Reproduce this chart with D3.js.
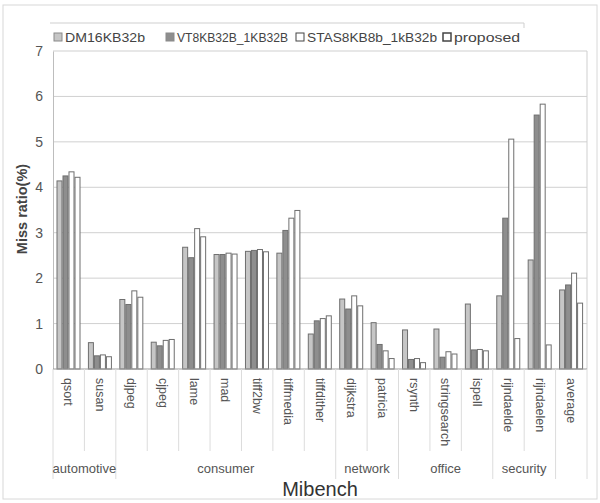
<!DOCTYPE html>
<html>
<head>
<meta charset="utf-8">
<script src="https://cdn.jsdelivr.net/npm/d3@7"></script>
<style>
  body { margin: 0; background: #fff; }
  text { font-family: "Liberation Sans", Arial, sans-serif; }
</style>
</head>
<body>
<div id="chart"></div>
<script>
// data
const categories = ["qsort", "susan", "djpeg", "cjpeg", "lame", "mad", "tiff2bw", "tiffmedia", "tiffdither",
  "dijkstra", "patricia", "rsynth", "stringsearch", "ispell", "rijndaelde", "rijndaelen", "average"];
const groupNames = ["automotive", "consumer", "network", "office", "security", ""];
const groupSizes = [2, 7, 2, 3, 2, 1];
const seriesNames = ["DM16KB32b", "VT8KB32B_1KB32B", "STAS8KB8b_1kB32b", "proposed"];
const dm   = [4.14, 0.58, 1.53, 0.59, 2.68, 2.52, 2.59, 2.55, 0.77, 1.54, 1.02, 0.86, 0.88, 1.43, 1.61, 2.40, 1.74];
const vt   = [4.25, 0.29, 1.42, 0.51, 2.45, 2.52, 2.61, 3.05, 1.06, 1.32, 0.54, 0.21, 0.26, 0.42, 3.32, 5.59, 1.85];
const stas = [4.34, 0.31, 1.72, 0.63, 3.09, 2.55, 2.63, 3.32, 1.11, 1.61, 0.40, 0.23, 0.38, 0.43, 5.06, 5.83, 2.11];
const prop = [4.22, 0.27, 1.58, 0.65, 2.91, 2.53, 2.58, 3.49, 1.17, 1.39, 0.23, 0.14, 0.33, 0.40, 0.67, 0.53, 1.45];
const yTicks = [0, 1, 2, 3, 4, 5, 6, 7];

const values = [dm, vt, stas, prop];
const fills = ["#c6c6c6", "#8e8e8e", "#ffffff", "#ffffff"];

const width = 600, height = 503;
const plotL = 53, plotR = 587, plotT = 51, plotB = 369;

const svg = d3.select("#chart").append("svg")
  .attr("width", width)
  .attr("height", height);

// outer frame
svg.append("rect")
  .attr("x", 3).attr("y", 5).attr("width", 594).attr("height", 494)
  .attr("fill", "none").attr("stroke", "#d8d8d8");

const x0 = d3.scaleBand().domain(categories).range([plotL, plotR]);
const x1 = d3.scaleBand().domain(seriesNames).range([3.5, 27.5]);
const y = d3.scaleLinear().domain([0, 7]).range([plotB, plotT]);

// gridlines
svg.append("g")
  .selectAll("line")
  .data(yTicks.filter(d => d > 0 && d < 7))
  .enter().append("line")
  .attr("x1", plotL).attr("x2", plotR)
  .attr("y1", d => y(d)).attr("y2", d => y(d))
  .attr("stroke", "#d0d0d0");

// plot frame: top and right
svg.append("path")
  .attr("d", `M${plotL},${y(7)}H${plotR}V${plotB}`)
  .attr("fill", "none").attr("stroke", "#cfcfcf");

// bars
const grp = svg.append("g").selectAll("g")
  .data(categories)
  .enter().append("g")
  .attr("transform", d => `translate(${x0(d)},0)`);

grp.selectAll("rect")
  .data((c, i) => seriesNames.map((s, j) => ({ s: s, j: j, v: values[j][i] })))
  .enter().append("rect")
  .attr("x", d => x1(d.s) + 0.5)
  .attr("y", d => y(d.v))
  .attr("width", x1.bandwidth() - 1)
  .attr("height", d => plotB - y(d.v))
  .attr("fill", d => fills[d.j])
  .attr("stroke", "#6f6f6f")
  .attr("stroke-width", 1);

// y axis
const yAxis = svg.append("g")
  .attr("transform", `translate(${plotL},0)`)
  .call(d3.axisLeft(y).tickValues(yTicks).tickFormat(d3.format("d")).tickSize(0).tickPadding(10));
yAxis.select(".domain").attr("stroke", "#bdbdbd");
yAxis.selectAll("text")
  .style("font-family", "Liberation Sans, Arial, sans-serif")
  .style("font-size", "14px")
  .attr("fill", "#555");

svg.append("text")
  .attr("transform", "translate(27,209) rotate(-90)")
  .attr("text-anchor", "middle")
  .attr("font-size", "14.5px")
  .attr("font-weight", "bold")
  .attr("fill", "#444")
  .text("Miss ratio(%)");

// x axis baseline
svg.append("line")
  .attr("x1", plotL).attr("x2", plotR)
  .attr("y1", plotB).attr("y2", plotB)
  .attr("stroke", "#9a9a9a");

// category separators
const bounds = d3.range(categories.length + 1).map(i => plotL + i * x0.step());
const groupEnds = d3.cumsum(groupSizes);
svg.append("g").selectAll("line")
  .data(bounds)
  .enter().append("line")
  .attr("x1", d => d).attr("x2", d => d)
  .attr("y1", plotB)
  .attr("y2", (d, i) => (i === 0 || groupEnds.includes(i)) ? 479 : 451)
  .attr("stroke", "#dcdcdc");

// category labels
svg.append("g").selectAll("text")
  .data(categories)
  .enter().append("text")
  .attr("transform", d => `translate(${x0(d) + x0.bandwidth() / 2},378) rotate(90)`)
  .attr("dy", "0.35em")
  .attr("font-size", "12.5px")
  .attr("fill", "#555")
  .text(d => d);

// group labels
let start = 0;
groupNames.forEach((g, i) => {
  const a = bounds[start], b = bounds[start + groupSizes[i]];
  start += groupSizes[i];
  if (!g) return;
  svg.append("text")
    .attr("x", (a + b) / 2)
    .attr("y", 473)
    .attr("text-anchor", "middle")
    .attr("font-size", "13px")
    .attr("fill", "#555")
    .text(g);
});

svg.append("text")
  .attr("x", (plotL + plotR) / 2)
  .attr("y", 496)
  .attr("text-anchor", "middle")
  .attr("font-size", "20px")
  .attr("fill", "#333")
  .text("Mibench");

// legend
svg.append("path")
  .attr("d", "M50,23H524V28")
  .attr("fill", "none").attr("stroke", "#cfcfcf");

const legendX = [54, 166, 296, 443];
const legendW = [80, 111, 130, 66];
const leg = svg.append("g").selectAll("g")
  .data(seriesNames)
  .enter().append("g")
  .attr("transform", (d, i) => `translate(${legendX[i]},37)`);
leg.append("rect")
  .attr("x", 0).attr("y", -4)
  .attr("width", 8).attr("height", 8)
  .attr("fill", (d, i) => fills[i])
  .attr("stroke", (d, i) => i < 2 ? "#8a8a8a" : "#444")
  .attr("stroke-width", (d, i) => i === 3 ? 1.5 : 1);
leg.append("text")
  .attr("x", 11)
  .attr("dy", "0.35em")
  .attr("font-size", "13px")
  .attr("fill", "#444")
  .attr("textLength", (d, i) => legendW[i])
  .attr("lengthAdjust", "spacingAndGlyphs")
  .text(d => d);
</script>
</body>
</html>
